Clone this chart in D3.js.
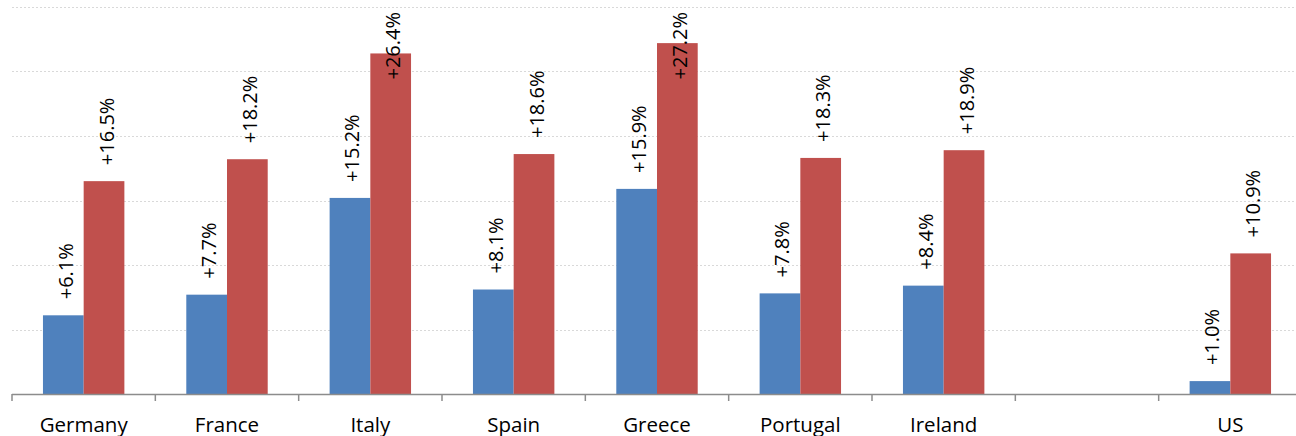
<!DOCTYPE html>
<html><head><meta charset="utf-8">
<script src="https://cdn.jsdelivr.net/npm/d3@7"></script>
<style>body{margin:0;background:#fff}svg{display:block}</style>
</head><body><svg id="c" width="1296" height="436"></svg>
<script>
const categories = ["Germany","France","Italy","Spain","Greece","Portugal","Ireland","","US"];
const seriesA = [6.1, 7.7, 15.2, 8.1, 15.9, 7.8, 8.4, null, 1.0];
const seriesB = [16.5, 18.2, 26.4, 18.6, 27.2, 18.3, 18.9, null, 10.9];
const gridTicks = [0, 5, 10, 15, 20, 25, 30];

const svg = d3.select("#c");
const font = "'Open Sans', sans-serif";
const x0 = 12, x1 = 1302, yBase = 394, yTop = 7;
const x = d3.scaleBand().domain(categories.map((d,i)=>i)).range([x0, x1]).paddingInner(0).paddingOuter(0);
const y = d3.scaleLinear().domain([0, 30]).range([yBase, yTop]);
const barW = x.bandwidth() * 0.284;
const lblSize = 20;

// gridlines
svg.append("g").selectAll("line").data(gridTicks.filter(d=>d>0)).join("line")
  .attr("x1", x0).attr("x2", 1296).attr("y1", d=>Math.round(y(d))+0.5).attr("y2", d=>Math.round(y(d))+0.5)
  .attr("stroke", "#d9d9d9").attr("stroke-width", 1.2).attr("stroke-dasharray", "2,2");

const series = [{vals: seriesA, color: "#4F81BD", off: -1}, {vals: seriesB, color: "#C0504D", off: 0}];
const barsG = svg.append("g");
const labelsG = svg.append("g");
series.forEach(s => {
  const data = s.vals.map((v,i)=>({v,i})).filter(d=>d.v!=null);
  barsG.append("g").selectAll("rect").data(data).join("rect")
    .attr("x", d => x(d.i) + x.bandwidth()/2 + s.off*barW)
    .attr("width", barW)
    .attr("y", d => y(d.v))
    .attr("height", d => yBase - y(d.v))
    .attr("fill", s.color);
  data.forEach(d => {
    const cx = x(d.i) + x.bandwidth()/2 + s.off*barW + barW/2 + 2;
    const txt = "+" + d.v.toFixed(1) + "%";
    const t = labelsG.append("text")
      .attr("font-family", font).attr("font-size", lblSize).attr("fill", "#000")
      .attr("text-anchor", "start").attr("dominant-baseline", "central")
      .text(txt);
    let len = 0;
    try { len = t.node().getComputedTextLength(); } catch(e) {}
    len = Math.max(len, txt.length * lblSize * 0.5);
    let yStart = y(d.v) - 16;
    if (yStart - len < 12) yStart = 12 + len;
    t.attr("transform", `translate(${cx},${yStart}) rotate(-90)`);
  });
});

// axis
const ax = svg.append("g");
ax.append("line").attr("x1", x0).attr("x2", 1296).attr("y1", yBase+0.5).attr("y2", yBase+0.5)
  .attr("stroke", "#8c8c8c").attr("stroke-width", 1.5);
const bounds = d3.range(categories.length + 1).map(i => x0 + i * x.step());
ax.selectAll("line.tick").data(bounds).join("line").attr("class","tick")
  .attr("x1", d=>d).attr("x2", d=>d).attr("y1", yBase).attr("y2", yBase+7)
  .attr("stroke", "#8c8c8c").attr("stroke-width", 1.5);
ax.selectAll("text").data(categories.map((c,i)=>({c,i}))).join("text")
  .attr("x", d => x(d.i) + x.bandwidth()/2).attr("y", 432)
  .attr("text-anchor", "middle").attr("font-family", font).attr("font-size", 20.5).attr("fill", "#000")
  .text(d => d.c);
</script></body></html>
